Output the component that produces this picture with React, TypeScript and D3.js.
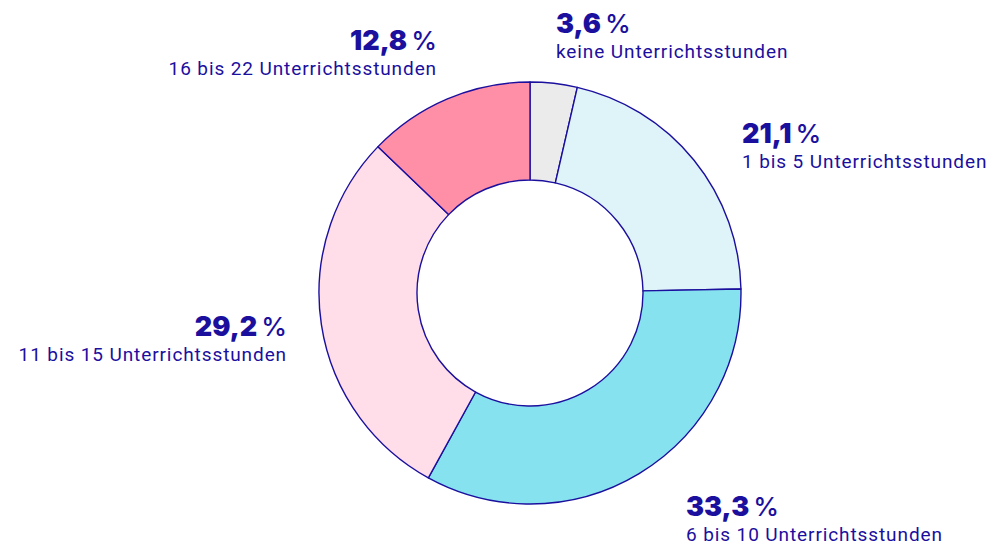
import React, { useEffect, useRef } from 'react';
import * as d3 from 'd3';

const categories = [
  'keine Unterrichtsstunden',
  '1 bis 5 Unterrichtsstunden',
  '6 bis 10 Unterrichtsstunden',
  '11 bis 15 Unterrichtsstunden',
  '16 bis 22 Unterrichtsstunden',
];
const values = [3.6, 21.1, 33.3, 29.2, 12.8];
const colors = ['#ebebeb', '#dff4f8', '#87e2f0', '#ffdee9', '#ff8fa7'];

// label placement (x, baseline of the value, anchor)
const labelPos: [number, number, string][] = [
  [556, 33, 'start'],
  [742, 143, 'start'],
  [686, 516, 'start'],
  [287, 336, 'end'],
  [437, 50, 'end'],
];

const INK = '#1b0f9e';

export default function App() {
  const ref = useRef<SVGSVGElement>(null);

  useEffect(() => {
    document.body.style.margin = '0';
    const svg = d3.select(ref.current);
    svg.selectAll('*').remove();

    const cx = 530, cy = 293, outer = 211, inner = 113;
    const pie = d3.pie<number>().sort(null).value(d => d);
    const arc = d3.arc<d3.PieArcDatum<number>>().innerRadius(inner).outerRadius(outer);

    const g = svg.append('g').attr('transform', `translate(${cx},${cy})`);
    g.selectAll('path')
      .data(pie(values))
      .enter().append('path')
      .attr('d', arc)
      .attr('fill', (d, i) => colors[i])
      .attr('stroke', INK)
      .attr('stroke-width', 1.4)
      .attr('stroke-linejoin', 'round');

    const lab = svg.append('g').selectAll('g')
      .data(categories)
      .enter().append('g')
      .attr('transform', (d, i) => `translate(${labelPos[i][0]},${labelPos[i][1]})`);

    const val = lab.append('text')
      .attr('text-anchor', (d, i) => labelPos[i][2])
      .attr('fill', INK)
      .style('font-family', 'Inter, Roboto, sans-serif');
    val.append('tspan')
      .style('font-size', '27px')
      .style('font-weight', 900)
      .text((d, i) => values[i].toFixed(1).replace('.', ','));
    val.append('tspan')
      .attr('dx', 4)
      .style('font-size', '26px')
      .style('font-weight', 500)
      .text('%');

    lab.append('text')
      .attr('y', 24.5)
      .attr('text-anchor', (d, i) => labelPos[i][2])
      .attr('fill', INK)
      .style('font-family', 'Roboto, sans-serif')
      .style('font-size', '19px')
      .style('letter-spacing', '0.9px')
      .text(d => d);
  }, []);

  return <svg ref={ref} width={1002} height={545} style={{ display: 'block', background: '#fff' }} />;
}
